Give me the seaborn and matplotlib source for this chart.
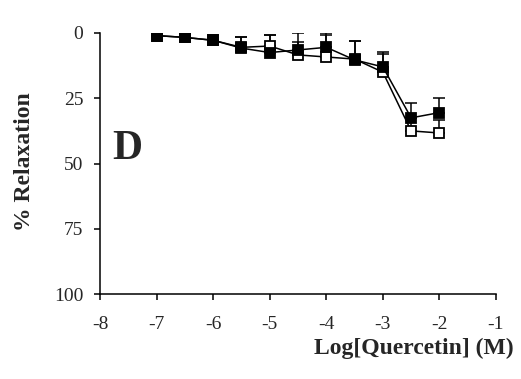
import seaborn as sns
import matplotlib.pyplot as plt

log_conc = [-7, -6.5, -6, -5.5, -5, -4.5, -4, -3.5, -3, -2.5, -2]
relax_open = [1.0, 1.7, 2.8, 5.5, 5.0, 8.4, 9.2, 10.0, 15.0, 37.5, 38.3]
err_open = [0, 0, 0, 4.0, 4.2, 5.0, 8.4, 7.0, 7.0, 5.0, 5.0]
relax_filled = [1.0, 1.7, 2.8, 5.8, 7.5, 6.5, 5.5, 10.3, 13.0, 32.5, 30.5]
err_filled = [0, 0, 0, 4.3, 6.7, 6.5, 5.5, 7.3, 5.7, 5.7, 5.5]
xticks = [-8, -7, -6, -5, -4, -3, -2, -1]
yticks = [0, 25, 50, 75, 100]

sns.set_style("ticks")
plt.rcParams['font.family'] = ['Liberation Serif', 'DejaVu Serif']
plt.rcParams['axes.unicode_minus'] = False

fig = plt.figure(figsize=(5.21, 3.79), dpi=100)
ax = fig.add_axes([0.192, 0.224, 0.760, 0.689])

# error bars only towards 0 (upwards on the inverted axis)
ax.errorbar(log_conc, relax_open, yerr=[err_open, [0] * len(err_open)], fmt='none',
            ecolor='black', elinewidth=1.1, capsize=4.5, capthick=1.1, zorder=1)
ax.errorbar(log_conc, relax_filled, yerr=[err_filled, [0] * len(err_filled)], fmt='none',
            ecolor='black', elinewidth=1.1, capsize=4.5, capthick=1.1, zorder=1)

sns.lineplot(x=log_conc, y=relax_open, ax=ax, color='black', linewidth=1.1,
             marker='s', markersize=7.5, markerfacecolor='white',
             markeredgecolor='black', markeredgewidth=1.3, zorder=2)
sns.lineplot(x=log_conc, y=relax_filled, ax=ax, color='black', linewidth=1.1,
             marker='s', markersize=7.5, markerfacecolor='black',
             markeredgecolor='black', markeredgewidth=1.3, zorder=3)

ax.set_xlim(-8, -1)
ax.set_ylim(100, 0)
ax.set_xticks(xticks)
ax.set_yticks(yticks)
ax.tick_params(labelsize=14, length=4, width=1.1, color='black')
ax.tick_params(axis='x', pad=12)
ax.tick_params(axis='y', pad=8)
for s in ['left', 'bottom']:
    ax.spines[s].set_linewidth(1.1)
    ax.spines[s].set_color('black')
sns.despine(ax=ax)

ax.set_ylabel('% Relaxation', fontsize=17, fontweight='bold')
ax.yaxis.set_label_coords(-0.165, 0.506)
ax.set_xlabel('Log[Quercetin] (M)', fontsize=17, fontweight='bold', ha='right')
ax.xaxis.set_label_coords(1.045, -0.207)
ax.xaxis.label.set_va('center')
ax.text(0.03, 0.556, 'D', transform=ax.transAxes, fontsize=30, fontweight='bold',
        ha='left', va='center')

fig.savefig('out.png', dpi=100)
